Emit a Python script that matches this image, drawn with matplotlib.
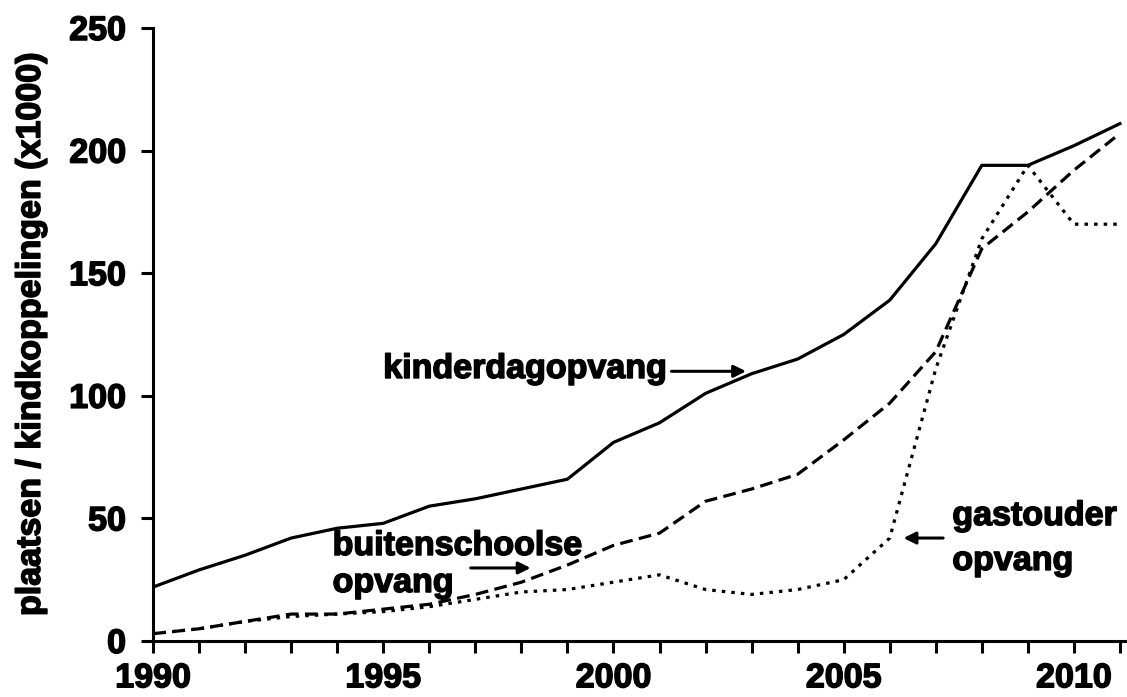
import matplotlib
matplotlib.use('Agg')
import matplotlib.pyplot as plt
import matplotlib.patheffects as pe

# Gegevens (x1000)
jaren = list(range(1990, 2012))
kinderdagopvang = [22, 29, 35, 42, 46, 48, 55, 58, 62, 66, 81, 89, 101, 109, 115, 125, 139, 162, 194, 194, 202, 211]
buitenschoolse = [3, 5, 8, 11, 11, 13, 15, 19, 24, 31, 39, 44, 57, 62, 68, 82, 97, 118, 160, 175, 192, 207]
gastouder = [3, 5, 8, 10, 11, 12, 14, 17, 20, 21, 24, 27, 21, 19, 21, 25, 42, 111, 164, 194, 170, 170]

x_labels = ['1990', '1995', '2000', '2005', '2010']
y_ticks = [0, 50, 100, 150, 200, 250]

plt.rcParams['font.family'] = ['Liberation Sans', 'DejaVu Sans']
plt.rcParams['font.weight'] = 'bold'
fs = 24.5
dik = [pe.withStroke(linewidth=1.1, foreground='black')]  # letters wat zwaarder

fig = plt.figure(figsize=(11.27, 6.97), dpi=100)
ax = fig.add_axes([0.1358, 0.0803, 0.862, 0.8795])

lw = 2.3
ax.plot(jaren, kinderdagopvang, color='black', lw=lw, solid_joinstyle='round')
ax.plot(jaren, buitenschoolse, color='black', lw=lw, linestyle=(0, (4, 2)))
ax.plot(jaren, gastouder, color='black', lw=lw, linestyle=(0, (1.1, 1.9)))

ax.set_xlim(1990, 2011.1)
ax.set_ylim(0, 250)

ax.set_xticks(jaren)
ax.set_xticklabels([str(j) if str(j) in x_labels else '' for j in jaren])
ax.set_yticks(y_ticks)

for s in ['top', 'right']:
    ax.spines[s].set_visible(False)
for s in ['left', 'bottom']:
    ax.spines[s].set_linewidth(2.2)

ax.tick_params(axis='y', direction='out', length=8.5, width=2.2, labelsize=fs, pad=11)
ax.tick_params(axis='x', direction='out', length=8.5, width=2.2, labelsize=fs, pad=7.5)
for lab in ax.get_xticklabels() + ax.get_yticklabels():
    lab.set_fontweight('bold')
    lab.set_path_effects(dik)

ax.set_ylabel('plaatsen / kindkoppelingen (x1000)', fontsize=fs, fontweight='bold', labelpad=16,
              path_effects=dik)

# Labels met pijlen
pijl = dict(arrowstyle='-|>', color='black', lw=2.2, mutation_scale=18, shrinkA=0, shrinkB=0)
tekst = dict(fontsize=fs, fontweight='bold', ha='left', va='baseline', path_effects=dik)

ax.text(1995.0, 107.3, 'kinderdagopvang', **tekst)
ax.annotate('', xy=(2002.88, 110), xytext=(2001.26, 110), arrowprops=pijl)

ax.text(1993.9, 35.1, 'buitenschoolse', **tekst)
ax.text(1993.9, 20, 'opvang', **tekst)
ax.annotate('', xy=(1998.2, 29.8), xytext=(1996.9, 29.8), arrowprops=pijl)

ax.text(2007.36, 47.3, 'gastouder', **tekst)
ax.text(2007.36, 29, 'opvang', **tekst)
ax.annotate('', xy=(2006.3, 42), xytext=(2007.16, 42), arrowprops=pijl)

plt.savefig('out.png', dpi=100)
